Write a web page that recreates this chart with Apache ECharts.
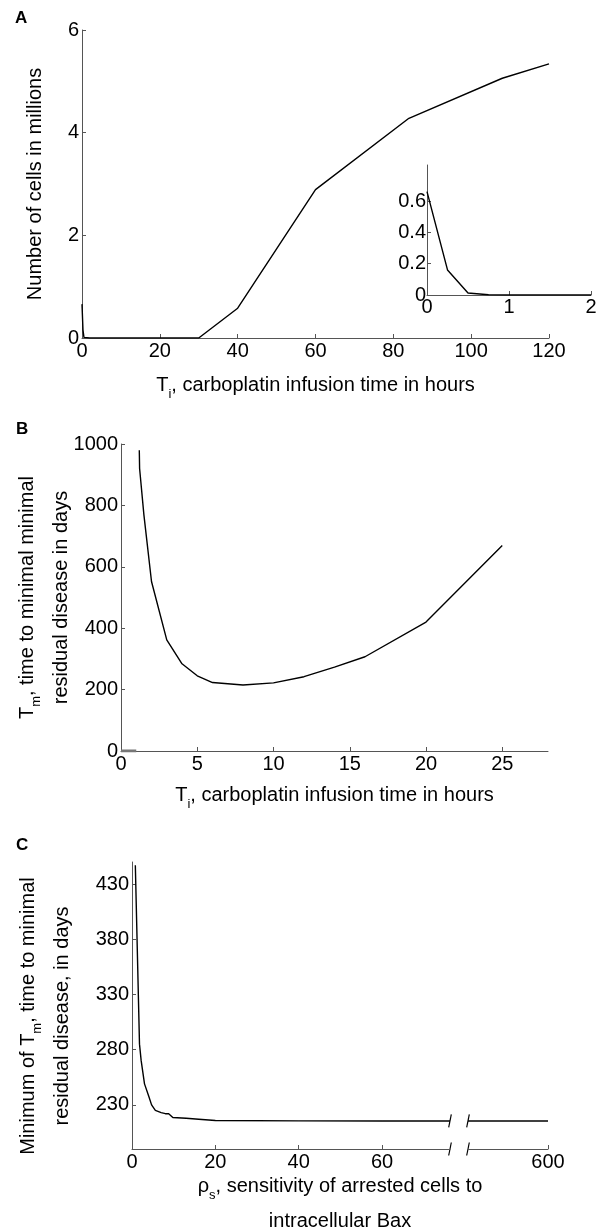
<!DOCTYPE html>
<html>
<head>
<meta charset="utf-8">
<script src="https://cdn.jsdelivr.net/npm/echarts@6/dist/echarts.min.js"></script>
<style>
  html, body { margin: 0; padding: 0; background: #fff; }
  #chart { width: 602px; height: 1230px; }
</style>
</head>
<body>
<div id="chart"></div>
<script>
  // panel A: cells left vs infusion time (hours)
  const cellsX = [0, 0.25, 0.5, 0.75, 1, 2, 30, 40, 60, 84, 108, 120];
  const cellsY = [0.66, 0.16, 0.013, 0.002, 0, 0, 0, 0.58, 2.89, 4.28, 5.06, 5.34];
  const cellsTicksX = [0, 20, 40, 60, 80, 100, 120];
  const cellsTicksY = [0, 2, 4, 6];
  // inset of A: first 2 hours
  const insetX = [0, 0.25, 0.5, 0.75, 1, 1.5, 2];
  const insetY = [0.66, 0.16, 0.013, 0.002, 0, 0, 0];
  const insetTicksX = [0, 1, 2];
  const insetTicksY = [0, 0.2, 0.4, 0.6];
  // panel B: time to MRD vs infusion time
  const tmX = [1.2, 1.22, 1.5, 2, 3, 4, 5, 6, 8, 10, 12, 14, 16, 20, 25];
  const tmY = [980, 920, 770, 552, 362, 284, 245, 223, 215, 222, 242, 273, 307, 420, 669];
  const tmZeroX = [0, 1];
  const tmZeroY = [0, 0];
  const tmTicksX = [0, 5, 10, 15, 20, 25];
  const tmTicksY = [0, 200, 400, 600, 800, 1000];
  // panel C: minimum Tm vs rho_s (broken x axis)
  const rhoX = [0.8, 1.8, 2.2, 3, 4, 4.7, 5.6, 7, 8, 8.8, 9.8, 13, 16, 20, 40, 60, 76.3];
  const rhoY = [447, 285, 270, 249, 238, 230, 225, 223, 222, 222, 218.6, 217.8, 217, 215.8, 215.5, 215.4, 215.4];
  const rhoFarX = [585, 600];
  const rhoFarY = [215.4, 215.4];
  const rhoTicksX = [0, 20, 40, 60];
  const rhoFarTicksX = [600];
  const rhoTicksY = [230, 280, 330, 380, 430];

  const FONT = '"Liberation Sans", Arial, Helvetica, sans-serif';
  const AXIS_COLOR = '#555';

  const zip = (xs, ys) => xs.map((x, i) => [x, ys[i]]);

  // n = normal text, s = subscript
  function rich(L) {
    return {
      n: { fontSize: 20, lineHeight: L, fontFamily: FONT, color: '#000' },
      s: { fontSize: 13, lineHeight: 10, fontFamily: FONT, color: '#000',
           verticalAlign: 'top', padding: [L / 2 + 2.5, 0, 0, 0] }
    };
  }

  function axis(o) {
    return {
      type: 'value',
      gridIndex: o.grid,
      min: o.min,
      max: o.max,
      show: o.show !== false,
      name: o.name || '',
      nameLocation: 'middle',
      nameGap: o.gap || 0,
      nameMoveOverlap: false,
      nameTextStyle: o.name ? { rich: rich(o.L || 24), align: 'center', padding: o.pad || 0 } : undefined,
      axisLine: { show: o.line !== false, lineStyle: { color: AXIS_COLOR, width: 1 } },
      axisTick: { show: !!o.ticks, inside: true, length: 4, customValues: o.ticks,
                  lineStyle: { color: AXIS_COLOR, width: 1 } },
      axisLabel: { show: !!o.ticks, customValues: o.ticks, color: '#000', fontSize: 20,
                   fontFamily: FONT, margin: o.margin == null ? 3 : o.margin,
                   formatter: (v) => String(v) },
      splitLine: { show: false }
    };
  }

  function line(xi, yi, data, color, width) {
    return {
      type: 'line', xAxisIndex: xi, yAxisIndex: yi, data: data,
      showSymbol: false, symbol: 'none', silent: true,
      lineStyle: { color: color || '#000', width: width || 1.4 }
    };
  }

  const chart = echarts.init(document.getElementById('chart'), null, { renderer: 'canvas' });

  chart.setOption({
    animation: false,
    backgroundColor: '#fff',
    grid: [
      { left: 82, top: 30, width: 467, height: 308, outerBoundsMode: 'none' },   // A
      { left: 427, top: 165, width: 164, height: 130, outerBoundsMode: 'none' }, // inset
      { left: 121, top: 444, width: 427, height: 307, outerBoundsMode: 'none' }, // B
      { left: 132, top: 862, width: 318, height: 287, outerBoundsMode: 'none' }, // C left
      { left: 468, top: 862, width: 80, height: 287, outerBoundsMode: 'none' },  // C right
      { left: 132, top: 862, width: 416, height: 287, outerBoundsMode: 'none' }  // C name only
    ],
    xAxis: [
      axis({ grid: 0, min: 0, max: 120, ticks: cellsTicksX, gap: 35,
             name: '{n|T}{s|i}{n|, carboplatin infusion time in hours}' }),
      axis({ grid: 1, min: 0, max: 2, ticks: insetTicksX, margin: 2 }),
      axis({ grid: 2, min: 0, max: 28, ticks: tmTicksX, gap: 32,
             name: '{n|T}{s|i}{n|, carboplatin infusion time in hours}' }),
      axis({ grid: 3, min: 0, max: 76.3, ticks: rhoTicksX }),
      axis({ grid: 4, min: 585, max: 600, ticks: rhoFarTicksX }),
      axis({ grid: 5, min: 0, max: 1, line: false, gap: 20, L: 35,
             name: '{n|ρ}{s|s}{n|, sensitivity of arrested cells to}\n{n|intracellular Bax}' })
    ],
    yAxis: [
      axis({ grid: 0, min: 0, max: 6, ticks: cellsTicksY, gap: 35,
             name: '{n|Number of cells in millions}' }),
      axis({ grid: 1, min: 0, max: 0.83, ticks: insetTicksY, margin: 1 }),
      axis({ grid: 2, min: 0, max: 1000, ticks: tmTicksY, gap: 43, L: 34,
             name: '{n|T}{s|m}{n|, time to minimal minimal}\n{n|residual disease in days}' }),
      axis({ grid: 3, min: 190, max: 450, ticks: rhoTicksY, gap: 53, L: 34, pad: [0, 21, 0, 0],
             name: '{n|Minimum of T}{s|m}{n|, time to minimal}\n{n|residual disease, in days}' }),
      axis({ grid: 4, min: 190, max: 450, show: false }),
      axis({ grid: 5, min: 0, max: 1, show: false })
    ],
    series: [
      line(0, 0, zip(cellsX, cellsY)),
      line(1, 1, zip(insetX, insetY)),
      line(2, 2, zip(tmZeroX, tmZeroY), '#777', 3),
      line(2, 2, zip(tmX, tmY)),
      line(3, 3, zip(rhoX, rhoY)),
      line(4, 4, zip(rhoFarX, rhoFarY))
    ]
  });

  // break marks on the C axis and curve, plus panel letters
  const lastY = rhoY[rhoY.length - 1];
  const breakL = chart.convertToPixel({ gridIndex: 3 }, [76.3, lastY]);
  const breakLAxis = chart.convertToPixel({ gridIndex: 3 }, [76.3, 190]);
  const breakR = chart.convertToPixel({ gridIndex: 4 }, [585, rhoFarY[0]]);
  const breakRAxis = chart.convertToPixel({ gridIndex: 4 }, [585, 190]);

  function slash(p) {
    return {
      type: 'line', silent: true,
      shape: { x1: p[0] - 1.3, y1: p[1] + 6.5, x2: p[0] + 1.3, y2: p[1] - 6.5 },
      style: { stroke: '#000', lineWidth: 1.2 }
    };
  }
  function letter(t, x, y) {
    return { type: 'text', left: x, top: y, silent: true,
             style: { text: t, font: 'bold 17px ' + FONT, fill: '#000' } };
  }

  chart.setOption({
    graphic: [
      slash(breakL), slash(breakLAxis), slash(breakR), slash(breakRAxis),
      letter('A', 15, 10), letter('B', 16, 421), letter('C', 16, 837)
    ]
  });
</script>
</body>
</html>
